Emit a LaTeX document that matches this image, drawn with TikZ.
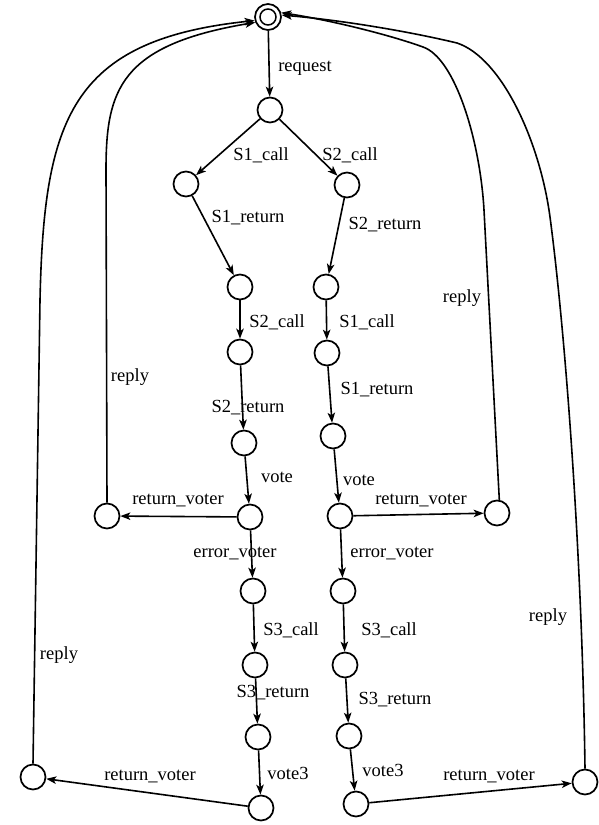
\documentclass[tikz,border=0pt]{standalone}
\usepackage{fontspec}
\setmainfont{Liberation Serif}
\usetikzlibrary{arrows.meta}
\begin{document}
\begin{tikzpicture}[x=1pt,y=-1pt,
  st/.style={circle,draw,line width=1.7pt,minimum size=25pt,inner sep=0pt},
  arr/.style={line width=1.6pt,-{Stealth[length=10pt,width=7.5pt,inset=2.5pt]}},
  lbl/.style={inner sep=0pt,font=\fontsize{18.5}{20}\selectfont}]
\useasboundingbox (0,0) rectangle (598,825);
% states
\node[st,minimum size=26pt] (top) at (268,17) {};
\draw[line width=1.5pt] (top.center) circle (8pt);
\node[st] (n1) at (270,110) {};
\node[st] (L1) at (186,184) {};
\node[st] (R1) at (347,185) {};
\node[st] (L2) at (240,287) {};
\node[st] (R2) at (326,287) {};
\node[st] (L3) at (240,352) {};
\node[st] (R3) at (327,353) {};
\node[st] (L4) at (244,443) {};
\node[st] (R4) at (333,436) {};
\node[st] (L5) at (250,517) {};
\node[st] (R5) at (340,516) {};
\node[st] (LR1) at (107,516) {};
\node[st] (RR1) at (497,513) {};
\node[st] (L6) at (253,591) {};
\node[st] (R6) at (343,591) {};
\node[st] (L7) at (255,665) {};
\node[st] (R7) at (345,665) {};
\node[st] (L8) at (258,737) {};
\node[st] (R8) at (349,736) {};
\node[st] (L9) at (261,808) {};
\node[st] (R9) at (356,804) {};
\node[st] (LR2) at (33,777) {};
\node[st] (RR2) at (585,782) {};
% transitions
\draw[arr] (top) -- (n1);
\draw[arr] (n1) -- (L1);
\draw[arr] (n1) -- (R1);
\draw[arr] (L1) -- (L2);
\draw[arr] (R1) -- (R2);
\draw[arr] (L2) -- (L3);
\draw[arr] (R2) -- (R3);
\draw[arr] (L3) -- (L4);
\draw[arr] (R3) -- (R4);
\draw[arr] (L4) -- (L5);
\draw[arr] (R4) -- (R5);
\draw[arr] (L5) -- (LR1);
\draw[arr] (R5) -- (RR1);
\draw[arr] (L5) -- (L6);
\draw[arr] (R5) -- (R6);
\draw[arr] (L6) -- (L7);
\draw[arr] (R6) -- (R7);
\draw[arr] (L7) -- (L8);
\draw[arr] (R7) -- (R8);
\draw[arr] (L8) -- (L9);
\draw[arr] (R8) -- (R9);
\draw[arr] (L9) -- (LR2);
\draw[arr] (R9) -- (RR2);
% replies
\draw[arr] (LR2.north) -- (40,300) .. controls (44,120) and (70,40) .. (top.195);
\draw[arr] (LR1.north) -- (106,170) .. controls (106,90) and (120,45) .. (top.203);
\draw[arr] (RR1.80) -- (484,210) .. controls (480,140) and (455,58) .. (423,47)
  .. controls (390,35) and (330,20) .. (top.18);
\draw[arr] (RR2.north) .. controls (582,550) and (565,330) .. (550,217)
  .. controls (540,142) and (502,58) .. (457,43)
  .. controls (407,31) and (340,20) .. (top.8);
% labels
\node[lbl] (t1) at (305,68) {request};
\node[lbl] (t2) at (261,155) {S1\_call};
\node[lbl] (t3) at (350,155) {S2\_call};
\node[lbl] (t4) at (248,218) {S1\_return};
\node[lbl] (t5) at (385,225) {S2\_return};
\node[lbl] (t6) at (277,322) {S2\_call};
\node[lbl] (t7) at (367,322) {S1\_call};
\node[lbl] (t8) at (377,390) {S1\_return};
\node[lbl] (t9) at (248,408) {S2\_return};
\node[lbl] (t10) at (277,477) {vote};
\node[lbl] (t11) at (359,480) {vote};
\node[lbl] (t12) at (178,500) {return\_voter};
\node[lbl] (t13) at (421,500) {return\_voter};
\node[lbl] (t14) at (235,553) {error\_voter};
\node[lbl] (t15) at (392,553) {error\_voter};
\node[lbl] (t16) at (291,630) {S3\_call};
\node[lbl] (t17) at (389,630) {S3\_call};
\node[lbl] (t18) at (273,693) {S3\_return};
\node[lbl] (t19) at (395,700) {S3\_return};
\node[lbl] (t20) at (288,773) {vote3};
\node[lbl] (t21) at (383,770) {vote3};
\node[lbl] (t22) at (150,776) {return\_voter};
\node[lbl] (t23) at (489,776) {return\_voter};
\node[lbl] (t24) at (59,655) {reply};
\node[lbl] (t25) at (130,377) {reply};
\node[lbl] (t26) at (462,298) {reply};
\node[lbl] (t27) at (548,617) {reply};
\end{tikzpicture}
\end{document}
